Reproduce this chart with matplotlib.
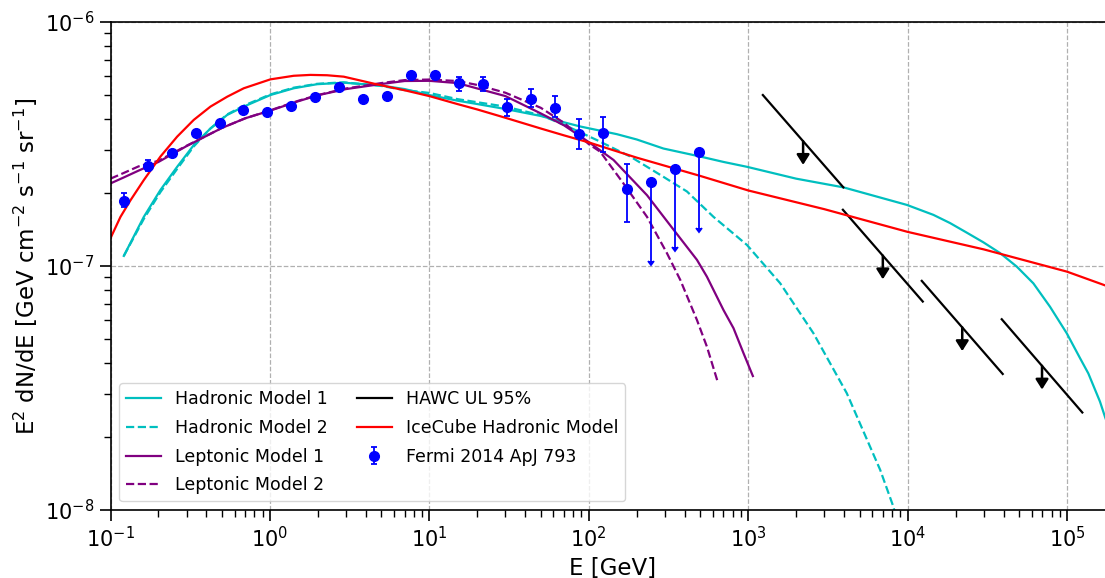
import numpy as np
import matplotlib
matplotlib.use("Agg")
import matplotlib.pyplot as plt

# ---------------- data ----------------
# Hadronic Model 1 (cyan solid)
had1_E = [0.1212, 0.1618, 0.2058, 0.2619, 0.3328, 0.4236, 0.5392, 0.6852, 1.007, 1.41,
          1.976, 2.902, 5, 7, 10, 15, 20, 30, 50, 70, 88.5, 150, 200, 294, 500, 700, 982,
          2000, 3963, 9890, 14520, 18450, 23500, 29900, 38000, 48400, 61500, 78200,
          99600, 120700, 136000, 161000, 173000, 195000]
had1_F = [1.10e-7, 1.59e-7, 2.05e-7, 2.55e-7, 3.13e-7, 3.66e-7, 4.16e-7, 4.50e-7, 5.02e-7,
          5.35e-7, 5.56e-7, 5.64e-7, 5.49e-7, 5.31e-7, 5.02e-7, 4.76e-7, 4.61e-7, 4.40e-7,
          4.12e-7, 3.88e-7, 3.73e-7, 3.47e-7, 3.30e-7, 3.03e-7, 2.81e-7, 2.67e-7, 2.55e-7,
          2.28e-7, 2.10e-7, 1.78e-7, 1.62e-7, 1.50e-7, 1.37e-7, 1.25e-7, 1.13e-7, 9.94e-8,
          8.49e-8, 6.81e-8, 5.30e-8, 4.19e-8, 3.63e-8, 2.78e-8, 2.41e-8, 1.94e-8]

# Hadronic Model 2 (cyan dashed)
had2_E = [0.1212, 0.1618, 0.2058, 0.2619, 0.3328, 0.4236, 0.5392, 0.6852, 1.007, 1.41,
          1.976, 2.902, 5, 7, 10, 15, 20, 30, 50, 70, 112.6, 182, 294, 413, 606, 982,
          1589, 2567, 4155, 6730, 8150, 8600]
had2_F = [1.10e-7, 1.56e-7, 2.01e-7, 2.50e-7, 3.09e-7, 3.66e-7, 4.18e-7, 4.54e-7, 5.05e-7,
          5.38e-7, 5.58e-7, 5.66e-7, 5.47e-7, 5.26e-7, 5.12e-7, 4.83e-7, 4.69e-7, 4.50e-7,
          4.15e-7, 3.79e-7, 3.28e-7, 2.81e-7, 2.32e-7, 2.02e-7, 1.59e-7, 1.22e-7, 8.49e-8,
          5.30e-8, 3.01e-8, 1.46e-8, 1.03e-8, 9.0e-9]

# Leptonic Model 1 (purple solid)
lep1_E = [0.1, 0.12, 0.15, 0.2, 0.3, 0.5, 0.7, 1, 1.5, 2, 3, 5, 7, 10, 15, 20, 30, 50, 70,
          100, 143, 232, 340, 477, 551, 700, 809, 935, 1070]
lep1_F = [2.18e-7, 2.30e-7, 2.46e-7, 2.67e-7, 3.10e-7, 3.68e-7, 4.03e-7, 4.33e-7, 4.73e-7,
          5.01e-7, 5.31e-7, 5.57e-7, 5.73e-7, 5.74e-7, 5.62e-7, 5.34e-7, 4.97e-7, 4.22e-7,
          3.77e-7, 3.22e-7, 2.72e-7, 1.95e-7, 1.41e-7, 1.06e-7, 9.04e-8, 6.60e-8, 5.56e-8,
          4.39e-8, 3.54e-8]

# Leptonic Model 2 (purple dashed)
lep2_E = [0.1, 0.12, 0.15, 0.2, 0.3, 0.5, 0.7, 1, 1.5, 2, 3, 5, 7, 10, 15, 20, 30, 50, 70,
          100, 118, 165, 232, 309, 375, 477, 551, 643]
lep2_F = [2.28e-7, 2.40e-7, 2.56e-7, 2.70e-7, 3.11e-7, 3.68e-7, 4.03e-7, 4.34e-7, 4.75e-7,
          5.02e-7, 5.34e-7, 5.62e-7, 5.78e-7, 5.81e-7, 5.73e-7, 5.52e-7, 5.13e-7, 4.45e-7,
          3.86e-7, 3.16e-7, 2.94e-7, 2.18e-7, 1.59e-7, 1.13e-7, 8.77e-8, 6.01e-8, 4.67e-8,
          3.36e-8]

# IceCube Hadronic Model (red)
ice_E = [0.1, 0.1155, 0.1335, 0.1618, 0.2058, 0.2619, 0.3328, 0.4236, 0.5392, 0.6852,
         1.007, 1.41, 1.794, 2.284, 2.902, 4.70, 7, 10, 15, 20, 30, 50, 70, 100, 200, 500,
         1e3, 3e3, 1e4, 3e4, 1e5, 1.95e5]
ice_F = [1.30e-7, 1.59e-7, 1.86e-7, 2.25e-7, 2.81e-7, 3.39e-7, 3.97e-7, 4.50e-7, 4.94e-7,
         5.35e-7, 5.82e-7, 6.02e-7, 6.07e-7, 6.05e-7, 5.97e-7, 5.55e-7, 5.25e-7, 4.97e-7,
         4.61e-7, 4.38e-7, 4.05e-7, 3.66e-7, 3.43e-7, 3.21e-7, 2.78e-7, 2.34e-7, 2.04e-7,
         1.71e-7, 1.38e-7, 1.17e-7, 9.48e-8, 8.1e-8]

# HAWC UL 95% segments
hawc_E_lo = [1236, 3927, 12270, 38950]
hawc_E_hi = [3954, 12450, 39500, 124700]
hawc_F_lo = [5.02e-7, 1.70e-7, 8.69e-8, 6.05e-8]   # flux at E_lo
hawc_F_hi = [2.10e-7, 7.15e-8, 3.61e-8, 2.51e-8]   # flux at E_hi

# Fermi 2014 ApJ 793
fermi_E = [0.121, 0.173, 0.244, 0.344, 0.484, 0.679, 0.964, 1.36, 1.93, 2.72, 3.85, 5.43,
           7.67, 10.9, 15.3, 21.7, 30.7, 43.4, 61.1, 86.8, 122.7, 173, 245, 346, 491]
fermi_F = [1.85e-7, 2.57e-7, 2.90e-7, 3.51e-7, 3.85e-7, 4.36e-7, 4.26e-7, 4.54e-7, 4.91e-7,
           5.43e-7, 4.83e-7, 4.99e-7, 6.06e-7, 6.06e-7, 5.61e-7, 5.56e-7, 4.47e-7, 4.85e-7,
           4.45e-7, 3.48e-7, 3.51e-7, 2.07e-7, 2.21e-7, 2.49e-7, 2.92e-7]
fermi_lo = [1.75e-7, 2.44e-7, 2.82e-7, 3.42e-7, 3.75e-7, 4.25e-7, 4.15e-7, 4.43e-7, 4.79e-7,
            5.30e-7, 4.71e-7, 4.87e-7, 5.91e-7, 5.91e-7, 5.23e-7, 5.19e-7, 4.12e-7, 4.50e-7,
            4.09e-7, 3.01e-7, 2.94e-7, 1.51e-7, 1.05e-7, 1.20e-7, 1.43e-7]
fermi_hi = [1.99e-7, 2.72e-7, 2.98e-7, 3.60e-7, 3.95e-7, 4.47e-7, 4.37e-7, 4.65e-7, 5.03e-7,
            5.56e-7, 4.95e-7, 5.11e-7, 6.21e-7, 6.21e-7, 5.97e-7, 5.93e-7, 4.82e-7, 5.30e-7,
            4.97e-7, 3.99e-7, 4.09e-7, 2.63e-7, 2.21e-7, 2.49e-7, 2.92e-7]
fermi_ul = [False] * 22 + [True] * 3

# ---------------- figure ----------------
fig = plt.figure(figsize=(11.05, 5.78), dpi=100)
ax = fig.add_axes([110.5 / 1105, 68 / 578, (1114 - 110.5) / 1105, 488 / 578])

ax.plot(had1_E, had1_F, color='c', ls='-', lw=1.6, label='Hadronic Model 1')
ax.plot(had2_E, had2_F, color='c', ls='--', lw=1.6, label='Hadronic Model 2')
ax.plot(lep1_E, lep1_F, color='purple', ls='-', lw=1.6, label='Leptonic Model 1')
ax.plot(lep2_E, lep2_F, color='purple', ls='--', lw=1.6, label='Leptonic Model 2')

for i in range(len(hawc_E_lo)):
    ax.plot([hawc_E_lo[i], hawc_E_hi[i]], [hawc_F_lo[i], hawc_F_hi[i]], color='k', lw=1.6,
            label='HAWC UL 95%' if i == 0 else None)
    ec = np.sqrt(hawc_E_lo[i] * hawc_E_hi[i])
    fc = np.sqrt(hawc_F_lo[i] * hawc_F_hi[i])
    ax.annotate('', xy=(ec, fc * 0.80), xytext=(ec, fc),
                arrowprops=dict(arrowstyle='-|>,head_length=0.6,head_width=0.38',
                                mutation_scale=10, color='k', lw=1.8,
                                shrinkA=0, shrinkB=0))

ax.plot(ice_E, ice_F, color='r', ls='-', lw=1.6, label='IceCube Hadronic Model')

fE = np.array(fermi_E)
fF = np.array(fermi_F)
err_lo = fF - np.array(fermi_lo)
err_hi = np.array(fermi_hi) - fF
ax.errorbar(fE, fF, yerr=[err_lo, err_hi], uplims=np.array(fermi_ul), fmt='o', color='b',
            ms=7, elinewidth=1.3, capsize=2, capthick=1.3, zorder=5,
            label='Fermi 2014 ApJ 793')

ax.set_xscale('log')
ax.set_yscale('log')
ax.set_xlim(0.1, 10 ** (5 + (1114 - 1067) / 159.5))
ax.set_ylim(1e-8, 1e-6)

ax.grid(True, which='major', ls='--', color='#b0b0b0', lw=0.9)
ax.tick_params(which='major', direction='out', length=8, width=1.2, labelsize=15)
ax.tick_params(which='minor', direction='out', length=5, width=1.0)
for s in ax.spines.values():
    s.set_linewidth(1.2)

ax.set_xlabel('E [GeV]', fontsize=16.5)
ax.set_ylabel(r'E$^2$ dN/dE [GeV cm$^{-2}$ s$^{-1}$ sr$^{-1}$]', fontsize=16.5)

ax.legend(loc='lower left', ncol=2, fontsize=12.5, columnspacing=1.7, labelspacing=0.62)

fig.savefig('out.png', dpi=100)
